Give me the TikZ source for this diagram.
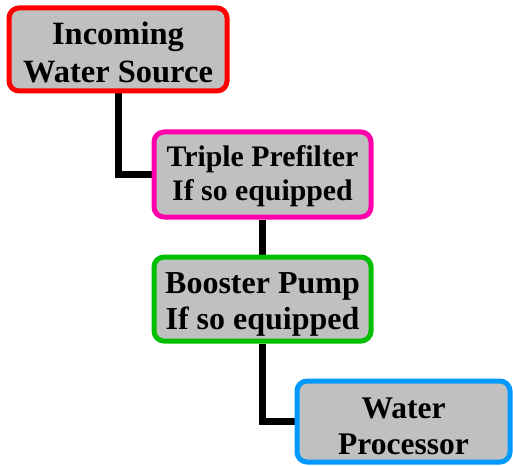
\documentclass[tikz,border=0pt]{standalone}
\usepackage{fontspec}
\setmainfont{Liberation Serif}
\usetikzlibrary{backgrounds}
\definecolor{boxfill}{HTML}{C0C0C0}
\definecolor{bred}{HTML}{FF0000}
\definecolor{bmag}{HTML}{FF00AA}
\definecolor{bgreen}{HTML}{00BE00}
\definecolor{bblue}{HTML}{0099FF}
\newcommand{\twoline}[3]{\raisebox{#1}[0pt][0pt]{\begin{tabular}[t]{@{}c@{}}#2\\#3\end{tabular}}}
\tikzset{
  flowbox/.style={draw, fill=boxfill, line width=5pt, rounded corners=10pt,
    inner sep=0pt},
  link/.style={draw=black, line width=7pt, line join=miter}
}
\begin{document}
\begin{tikzpicture}[x=1pt,y=-1pt]
\useasboundingbox (0,0) rectangle (513,465);
\node[flowbox, draw=bred, minimum width=218pt, minimum height=83pt,
  font=\bfseries\fontsize{32.5}{37.7}\selectfont] (b1) at (118,49.5)
  {\twoline{4.5pt}{Incoming}{Water Source}};
\node[flowbox, draw=bmag, minimum width=217pt, minimum height=85pt,
  font=\bfseries\fontsize{29.8}{34}\selectfont] (b2) at (262.5,174.5)
  {\twoline{8.5pt}{Triple Prefilter}{If so equipped}};
\node[flowbox, draw=bgreen, minimum width=217pt, minimum height=84pt,
  font=\bfseries\fontsize{32}{36}\selectfont] (b3) at (262.5,299)
  {\twoline{5.7pt}{Booster Pump}{If so equipped}};
\node[flowbox, draw=bblue, minimum width=213pt, minimum height=81pt,
  font=\bfseries\fontsize{31.5}{36}\selectfont] (b4) at (403.5,421.5)
  {\twoline{3.5pt}{Water}{Processor}};
\begin{scope}[on background layer]
\draw[link] (b1.south) |- (b2.west);
\draw[link] (b2.south) -- (b3.north);
\draw[link] (b3.south) |- (b4.west);
\end{scope}
\end{tikzpicture}
\end{document}
